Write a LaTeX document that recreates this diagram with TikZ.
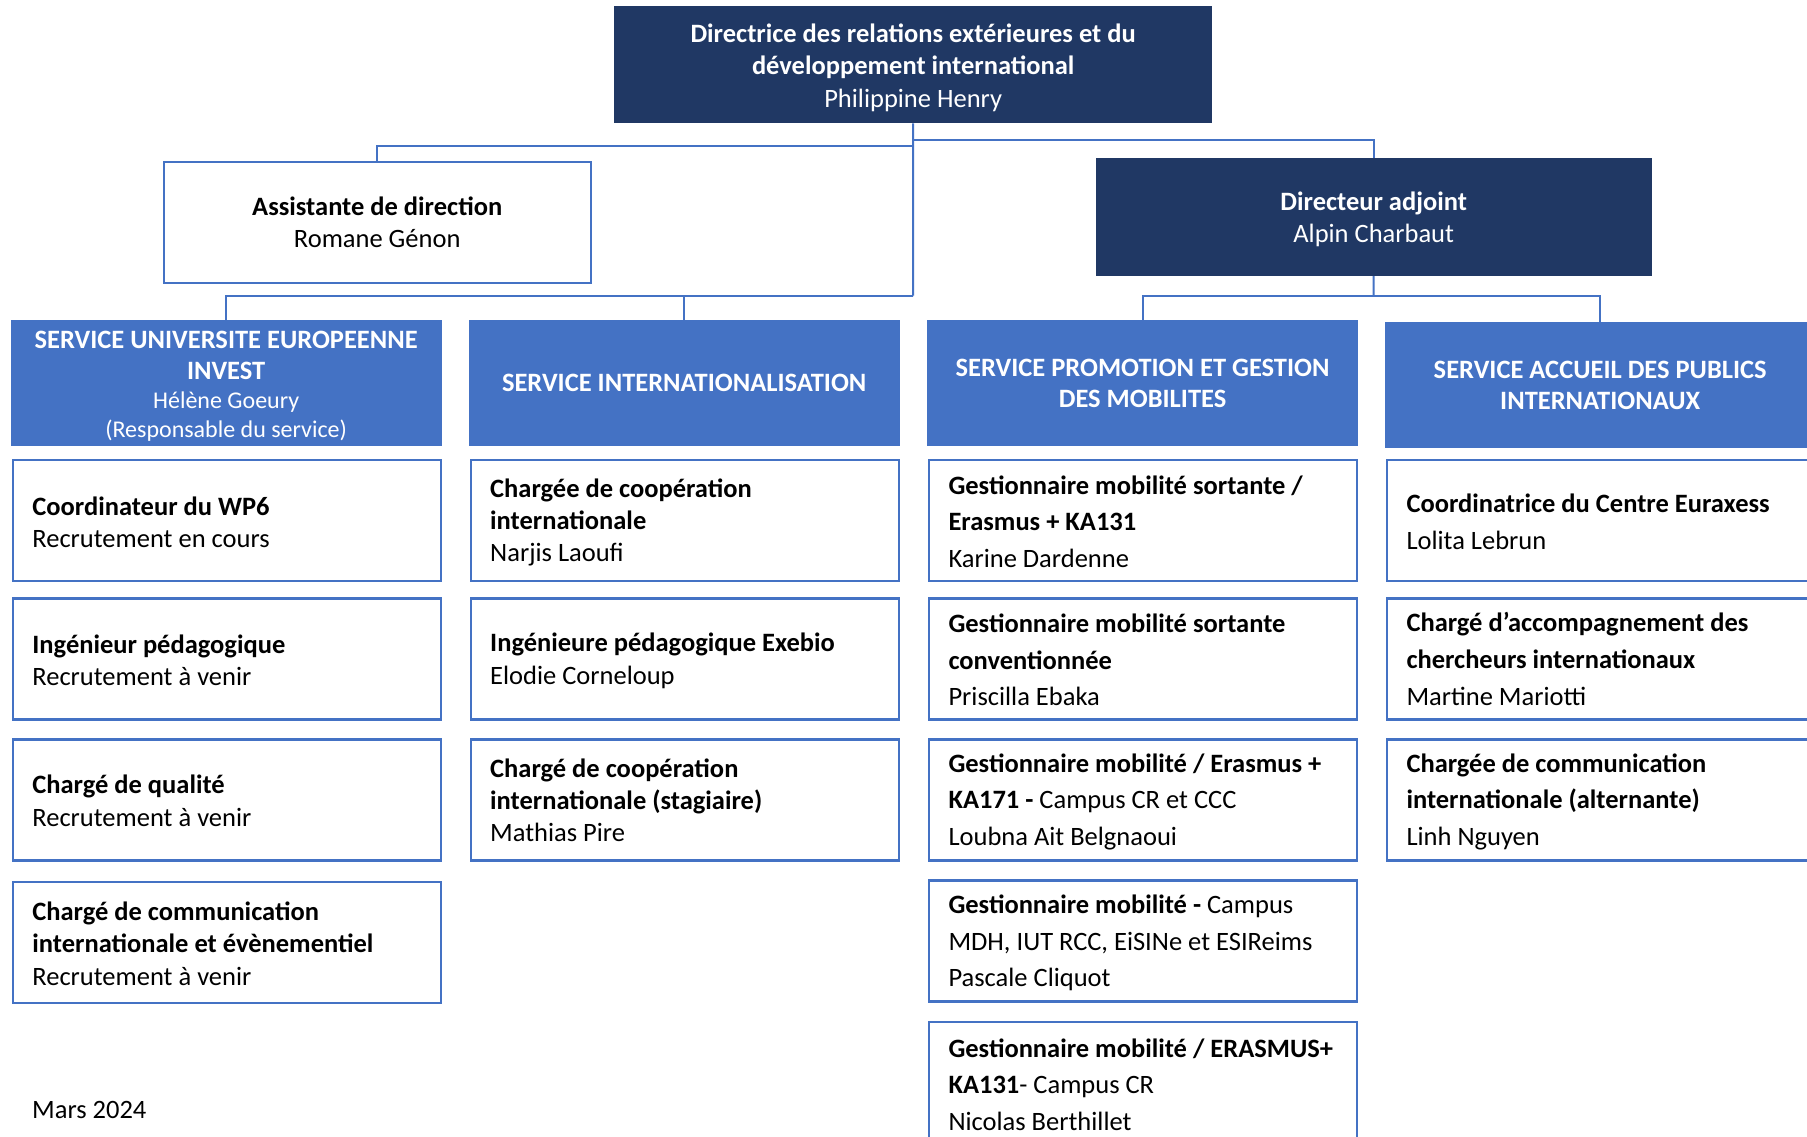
\documentclass[tikz,border=0pt]{standalone}
\usepackage{fontspec}
\setmainfont{Carlito}
\definecolor{navy}{HTML}{203864}
\definecolor{acc}{HTML}{4472C4}
\begin{document}
\begin{tikzpicture}[x=1pt,y=-1pt,
  conn/.style={draw=acc,line width=2pt},
  topbox/.style={fill=navy,anchor=north west,inner sep=0pt},
  toptxt/.style={text=white,inner sep=0pt,align=center,font=\fontsize{26.5}{32.5}\selectfont},
  svcbox/.style={fill=acc,text=white,anchor=north west,inner sep=0pt,align=center,font=\fontsize{26.5}{31}\selectfont,minimum height=125.7pt},
  cellbox/.style={draw=acc,line width=2.2pt,fill=white,anchor=north west,inner sep=0pt,minimum width=428pt,minimum height=121pt},
  celltxt/.style={anchor=west,inner sep=0pt,align=left,font=\fontsize{26.5}{32.3}\selectfont},
  celltxtb/.style={anchor=west,inner sep=0pt,align=left,font=\fontsize{26.5}{36.6}\selectfont},
]
\useasboundingbox (0,0) rectangle (1807,1137);
\clip (0,0) rectangle (1807,1137);
\fill[white] (0,0) rectangle (1807,1137);

% top level
\node[topbox,minimum width=598pt,minimum height=117pt] (top) at (614,6) {};
\node[toptxt] (toptext) at ([yshift=-3pt]top.center)
  {\textbf{Directrice des relations extérieures et du}\\\textbf{développement international}\\Philippine Henry};
\node[draw=acc,line width=2.2pt,fill=white,anchor=north west,inner sep=0pt,minimum width=427pt,minimum height=121pt,align=center,font=\fontsize{26.5}{32.3}\selectfont] (asst) at (162.6,160.7)
  {\textbf{Assistante de direction}\\Romane Génon};
\node[topbox,minimum width=556pt,minimum height=117.4pt] (da) at (1095.5,158.3) {};
\node[toptxt] (datext) at ([yshift=-2pt]da.center)
  {\textbf{Directeur adjoint}\\Alpin Charbaut};

% services
\node[svcbox,minimum width=430.7pt] (s1) at (10.6,320) {};
\node[toptxt,font=\fontsize{26.5}{31}\selectfont] (s1text) at ([yshift=-3pt]s1.center)
  {\textbf{SERVICE UNIVERSITE EUROPEENNE}\\\textbf{INVEST}\\[-1.5pt]{\fontsize{24}{29}\selectfont Hélène Goeury}\\[-2.5pt]{\fontsize{24}{29}\selectfont (Responsable du service)}};
\node[svcbox,minimum width=431.3pt] (s2) at (468.3,320)
  {\textbf{SERVICE INTERNATIONALISATION}};
\node[svcbox,minimum width=430.3pt] (s3) at (927.2,320)
  {\textbf{SERVICE PROMOTION ET GESTION}\\\textbf{DES MOBILITES}};
\node[svcbox,minimum width=430.6pt] (s4) at (1384.7,322)
  {\textbf{SERVICE ACCUEIL DES PUBLICS}\\\textbf{INTERNATIONAUX}};

% connectors
\coordinate (jL) at (913,295.5);
\coordinate (ja) at (913,146.5);
\coordinate (jd) at (913,140.5);
\coordinate (jr) at (1373.5,296);
\draw[conn] (top.south) -- (jL);
\draw[conn] (s1.north) |- (jL) -| (s2.north);
\draw[conn] (ja) -| (asst.north);
\draw[conn] (jd) -| (da.north);
\draw[conn] (da.south) -- (jr);
\draw[conn] (s3.north) |- (jr) -| (s4.north);

% column 1
\node[cellbox] (c11) at (11.7,459) {};
\node[celltxt] (t11) at ([xshift=20.5pt,yshift=-1.5pt]c11.west) {\textbf{Coordinateur du WP6}\\Recrutement en cours};
\node[cellbox] (c12) at (11.7,597.3) {};
\node[celltxt] (t12) at ([xshift=20.5pt,yshift=-1.5pt]c12.west) {\textbf{Ingénieur pédagogique}\\Recrutement à venir};
\node[cellbox] (c13) at (11.7,738.3) {};
\node[celltxt] (t13) at ([xshift=20.5pt,yshift=-1pt]c13.west) {\textbf{Chargé de qualité}\\Recrutement à venir};
\node[cellbox] (c14) at (11.7,881) {};
\node[celltxt] (t14) at ([xshift=20.5pt,yshift=-1pt]c14.west) {\textbf{Chargé de communication}\\\textbf{internationale et évènementiel}\\Recrutement à venir};

% column 2
\node[cellbox] (c21) at (469.5,459) {};
\node[celltxt] (t21) at ([xshift=20.5pt,yshift=-2pt]c21.west) {\textbf{Chargée de coopération}\\\textbf{internationale}\\Narjis Laoufi};
\node[cellbox] (c22) at (469.5,597.3) {};
\node[celltxt] (t22) at ([xshift=20.5pt,yshift=-2pt]c22.west) {\textbf{Ingénieure pédagogique Exebio}\\Elodie Corneloup};
\node[cellbox] (c23) at (469.5,738.3) {};
\node[celltxt] (t23) at ([xshift=20.5pt,yshift=-0.5pt]c23.west) {\textbf{Chargé de coopération}\\\textbf{internationale (stagiaire)}\\Mathias Pire};

% column 3
\node[cellbox] (c31) at (927.8,459) {};
\node[celltxtb] (t31) at ([xshift=20.5pt,yshift=-1pt]c31.west) {\textbf{Gestionnaire mobilité sortante /}\\\textbf{Erasmus + KA131}\\Karine Dardenne};
\node[cellbox] (c32) at (927.8,597.3) {};
\node[celltxtb] (t32) at ([xshift=20.5pt,yshift=-1pt]c32.west) {\textbf{Gestionnaire mobilité sortante}\\\textbf{conventionnée}\\Priscilla Ebaka};
\node[cellbox] (c33) at (927.8,738.3) {};
\node[celltxtb] (t33) at ([xshift=20.5pt,yshift=-2pt]c33.west) {\textbf{Gestionnaire mobilité / Erasmus +}\\\textbf{KA171 -} Campus CR et CCC\\Loubna Ait Belgnaoui};
\node[cellbox] (c34) at (927.8,879.3) {};
\node[celltxtb] (t34) at ([xshift=20.5pt,yshift=-2pt]c34.west) {\textbf{Gestionnaire mobilité -} Campus\\MDH, IUT RCC, EiSINe et ESIReims\\Pascale Cliquot};
\node[cellbox] (c35) at (927.8,1021) {};
\node[celltxtb] (t35) at ([xshift=20.5pt,yshift=-2pt]c35.west) {\textbf{Gestionnaire mobilité / ERASMUS+}\\\textbf{KA131}- Campus CR\\Nicolas Berthillet};

% column 4
\node[cellbox] (c41) at (1385.8,459) {};
\node[celltxtb] (t41) at ([xshift=20.5pt,yshift=-1pt]c41.west) {\textbf{Coordinatrice du Centre Euraxess}\\Lolita Lebrun};
\node[cellbox] (c42) at (1385.8,597.3) {};
\node[celltxtb] (t42) at ([xshift=20.5pt]c42.west) {\textbf{Chargé d’accompagnement des}\\\textbf{chercheurs internationaux}\\Martine Mariotti};
\node[cellbox] (c43) at (1385.8,738.3) {};
\node[celltxtb] (t43) at ([xshift=20.5pt,yshift=-2pt]c43.west) {\textbf{Chargée de communication}\\\textbf{internationale (alternante)}\\Linh Nguyen};

% date
\node[anchor=west,inner sep=0pt,font=\fontsize{26.5}{32}\selectfont] (date) at (32,1110) {Mars 2024};
\end{tikzpicture}
\end{document}
